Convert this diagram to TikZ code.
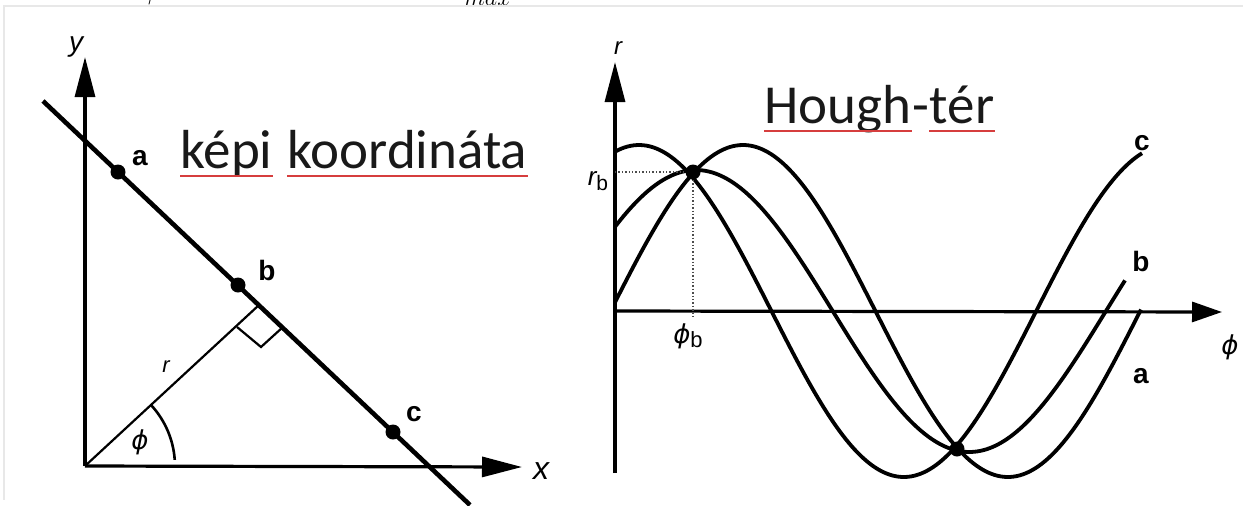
\documentclass[tikz,border=0pt]{standalone}
\usepackage{fontspec}
\setmainfont{Carlito}
\newfontfamily\labfont{Liberation Sans}
\newfontfamily\phifont{DejaVu Sans}
\usetikzlibrary{arrows.meta,calc}
\definecolor{spell}{RGB}{214,62,62}
\definecolor{framegray}{RGB}{232,232,232}
\begin{document}
\begin{tikzpicture}[x=0.5pt,y=-0.5pt,
  axisline/.style={line width=1.6pt,-{Triangle[length=20pt,width=10pt]}},
  axislineb/.style={line width=1.6pt,-{Triangle[length=15pt,width=10pt]}},
  mainline/.style={line width=2.3pt},
  thinline/.style={line width=1.1pt},
  curve/.style={line width=1.9pt},
  dot/.style={circle,fill=black,inner sep=0pt,minimum size=7.5pt},
  ptlab/.style={font=\labfont\bfseries\fontsize{14}{16}\selectfont,inner sep=0pt},
  axlab/.style={font=\labfont\itshape\fontsize{14}{16}\selectfont,inner sep=0pt},
  philab/.style={font=\phifont\itshape\fontsize{13}{15}\selectfont,inner sep=0pt},
  title/.style={font=\fontsize{27.5}{32}\selectfont,inner sep=0pt,anchor=base west,text=black!90},
  spellline/.style={draw=spell,line width=1pt},
  guide/.style={densely dotted,line width=0.7pt,draw=black!70},
  frag/.style={inner sep=0pt,font=\fontsize{20}{22}\selectfont}]
\useasboundingbox (0,0) rectangle (1243,505);
\clip (0,0) rectangle (1243,505);
\fill[white] (0,0) rectangle (1243,505);
\node[frag,anchor=base] (topphi) at (153,-4) {$\phi$};
\node[frag,anchor=base west,font=\fontsize{12.5}{14}\selectfont] (topmax) at (464,5) {$max$};
\draw[framegray,line width=0.7pt] (1243,6) -- (4,6) -- (4,500);

% left panel
\coordinate (O) at (85,466);
\coordinate (yt) at (85,57);
\coordinate (xt) at (522,467);
\draw[axisline] (O) -- (yt);
\draw[axisline] (O) -- (xt);
\coordinate (L1) at (43,101);
\coordinate (L2) at (470,505);
\draw[mainline] (L1) -- (L2);
\coordinate (F) at (259,305);
\coordinate (SA) at (237,327);
\coordinate (SB) at (261,347);
\coordinate (SC) at (283,327);
\draw[thinline] (O) -- (F);
\draw[thinline] (SA) -- (SB) -- (SC);
\coordinate (AS) at (151,405);
\draw[line width=1.3pt] (AS) arc[start angle=-42.8,end angle=-4,radius=90];
\node[dot] (a) at (118,172) {};
\node[dot] (b) at (238,285) {};
\node[dot] (c) at (393,432) {};
\node[ptlab] (la) at (140,158) {a};
\node[ptlab] (lb) at (267,270) {b};
\node[ptlab] (lc) at (414,414) {c};
\node[axlab] (ly) at (76,47) {y};
\node[axlab,font=\labfont\itshape\fontsize{16}{18}\selectfont] (lx) at (541,471) {x};
\node[axlab,font=\labfont\itshape\fontsize{11}{13}\selectfont] (lr) at (166,367) {r};
\node[philab] (lphi) at (140,442) {ϕ};

\node[title] (w1) at (180,168) {képi};
\node[title] (w2) at (287,168) {koordináta};
\draw[spellline] ([yshift=-4pt]w1.base west) -- ([yshift=-4pt]w1.base east);
\draw[spellline] ([yshift=-4pt]w2.base west) -- ([yshift=-4pt]w2.base east);

% right panel
\coordinate (O2) at (615,473);
\coordinate (rt) at (615,62);
\coordinate (P0) at (615,311);
\coordinate (pt) at (1222,312);
\draw[axisline] (O2) -- (rt);
\draw[axislineb] (P0) -- (pt);
\draw[curve] plot[domain=615:1142,samples=170] (\x,{311-166*cos(deg((\x-639)/84.3))});
\draw[curve] plot[domain=615:1125,samples=170] (\x,{311-141*cos(deg((\x-696)/87))});
\draw[curve] plot[domain=615:1141,samples=170] (\x,{311-166*cos(deg((\x-743)/84.3))});
\node[dot] (i1) at (693,172) {};
\node[dot] (i2) at (957,449) {};
\coordinate (rb) at (615,172);
\coordinate (phb) at (693,318);
\draw[guide] (rb) -- (i1);
\draw[guide] (i1) -- (phb);
\node[ptlab] (lc2) at (1142,143) {c};
\node[ptlab] (lb2) at (1141,261) {b};
\node[ptlab] (la2) at (1141,376) {a};
\node[philab] (lphi2) at (1230,347) {ϕ};
\node[axlab,font=\labfont\itshape\fontsize{12}{14}\selectfont] (lr2) at (618,48) {r};
\node[inner sep=0pt] (lrb) at (598,181) {{\labfont\itshape\fontsize{13}{15}\selectfont r}\raisebox{-0.5ex}{\labfont\fontsize{10.5}{12}\selectfont b}};
\node[inner sep=0pt] (lphb) at (688,336) {{\phifont\itshape\fontsize{13}{15}\selectfont ϕ}\raisebox{-0.5ex}{\labfont\fontsize{11}{12}\selectfont b}};

\node[title] (h1) at (764,123) {Hough};
\node[title] (h2) at (h1.base east) {-};
\node[title] (h3) at (h2.base east) {tér};
\draw[spellline] ([yshift=-4pt]h1.base west) -- ([yshift=-4pt]h1.base east);
\draw[spellline] ([yshift=-4pt]h3.base west) -- ([yshift=-4pt]h3.base east);
\end{tikzpicture}
\end{document}
